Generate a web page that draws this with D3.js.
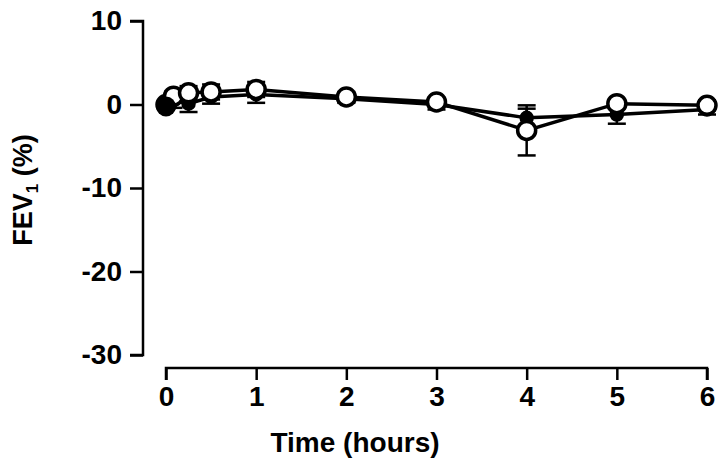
<!DOCTYPE html>
<html>
<head>
<meta charset="utf-8">
<script src="https://cdn.jsdelivr.net/npm/d3@7"></script>
<style>
body { margin: 0; background: #fff; }
text { font-family: "Liberation Sans", Arial, sans-serif; font-weight: bold; }
</style>
</head>
<body>
<div id="chart"></div>
<script>
// time points (hours)
var times = [0, 0.083, 0.25, 0.5, 1, 2, 3, 4, 5, 6];
// filled-circle series
var filledMean = [0, 0.5, 0.1, 0.9, 1.2, 0.7, 0.0, -1.6, -1.2, -0.6];
var filledErr = [0, 0.9, 1.0, 0.8, 1.0, 0.5, 0.6, 1.1, 1.1, 0.6];
// open-circle series
var openMean = [0, 1.0, 1.4, 1.5, 1.8, 0.9, 0.3, -3.1, 0.1, -0.1];
var openErr = [0, 0.6, 0.8, 0.9, 0.9, 0.6, 0.5, 3.0, 0.5, 0.6];
var xTicks = [0, 1, 2, 3, 4, 5, 6];
var yTicks = [10, 0, -10, -20, -30];

var W = 720, H = 464;
var svg = d3.select("#chart").append("svg")
    .attr("width", W)
    .attr("height", H);

var x = d3.scaleLinear().domain([0, 6]).range([166, 707]);
var y = d3.scaleLinear().domain([-30, 10]).range([355, 21]);

var plain = function(d) { return String(d); };

// y axis
var yAxis = svg.append("g")
    .attr("transform", "translate(143,0)")
    .call(d3.axisLeft(y).tickValues(yTicks).tickSize(13).tickPadding(8).tickFormat(plain));
// x axis
var xAxis = svg.append("g")
    .attr("transform", "translate(0,368)")
    .call(d3.axisBottom(x).tickValues(xTicks).tickSize(12).tickPadding(6).tickFormat(plain));

[yAxis, xAxis].forEach(function(a) {
  a.select(".domain").attr("stroke", "#000").attr("stroke-width", 2.5);
  a.selectAll(".tick line").attr("stroke", "#000").attr("stroke-width", 2.5);
  a.selectAll(".tick text").attr("fill", "#000").attr("font-size", 28);
});
yAxis.select(".domain").attr("d", "M-13," + y(10) + "H0V" + y(-30) + "H-13");
xAxis.select(".domain").attr("d", "M" + x(0) + ",12V0H" + x(6) + "V12");

// axis titles
svg.append("text")
    .attr("x", 355).attr("y", 452)
    .attr("text-anchor", "middle")
    .attr("font-size", 28)
    .text("Time (hours)");

var yl = svg.append("text")
    .attr("transform", "translate(32,190) rotate(-90)")
    .attr("text-anchor", "middle")
    .attr("font-size", 27);
yl.append("tspan").text("FEV");
yl.append("tspan").attr("font-size", 17).attr("dy", 6).text("1");
yl.append("tspan").attr("dy", -6).text(" (%)");

function drawSeries(mean, err, filled, r) {
  var pts = times.map(function(t, i) { return {t: t, m: mean[i], e: err[i]}; });
  var g = svg.append("g");
  g.append("path")
      .datum(pts)
      .attr("fill", "none")
      .attr("stroke", "#000")
      .attr("stroke-width", 3.5)
      .attr("d", d3.line().x(function(d) { return x(d.t); }).y(function(d) { return y(d.m); }));
  var eb = g.selectAll(".eb").data(pts.filter(function(d) { return d.e > 0; })).enter().append("g");
  eb.append("line")
      .attr("x1", function(d) { return x(d.t); }).attr("x2", function(d) { return x(d.t); })
      .attr("y1", function(d) { return y(d.m - d.e); }).attr("y2", function(d) { return y(d.m + d.e); })
      .attr("stroke", "#000").attr("stroke-width", 2.5);
  [-1, 1].forEach(function(s) {
    eb.append("line")
        .attr("x1", function(d) { return x(d.t) - 9; }).attr("x2", function(d) { return x(d.t) + 9; })
        .attr("y1", function(d) { return y(d.m + s * d.e); }).attr("y2", function(d) { return y(d.m + s * d.e); })
        .attr("stroke", "#000").attr("stroke-width", 2.5);
  });
  g.selectAll("circle").data(pts).enter().append("circle")
      .attr("cx", function(d) { return x(d.t); })
      .attr("cy", function(d) { return y(d.m); })
      .attr("r", r)
      .attr("fill", filled ? "#000" : "#fff")
      .attr("stroke", "#000")
      .attr("stroke-width", 3.5);
}

drawSeries(filledMean, filledErr, true, 5.5);
drawSeries(openMean, openErr, false, 9);

// first point drawn as a solid blob like the reference
svg.append("circle")
    .attr("cx", x(times[0]))
    .attr("cy", y(filledMean[0]) + 2)
    .attr("r", 10)
    .attr("fill", "#000");
</script>
</body>
</html>
